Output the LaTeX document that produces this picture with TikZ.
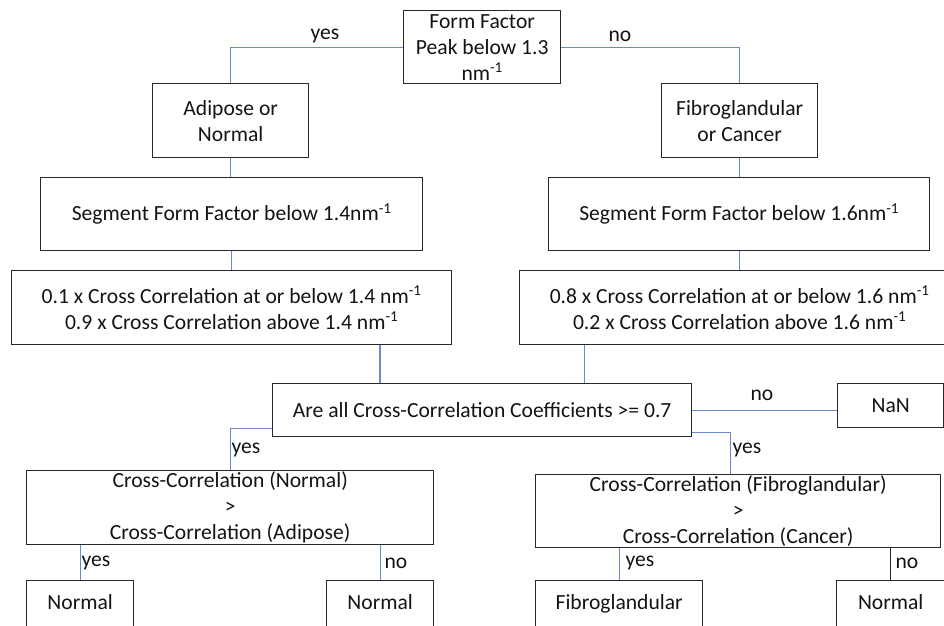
\documentclass[tikz,border=0pt]{standalone}
\usepackage{fontspec}
\setmainfont{Carlito}
\definecolor{boxc}{RGB}{40,40,40}
\definecolor{connc}{RGB}{105,138,200}
\definecolor{txtc}{RGB}{20,20,20}
\begin{document}
\begin{tikzpicture}[x=1pt,y=-1pt,
  every node/.style={font=\fontsize{21.6}{26}\selectfont, text=txtc},
  box/.style={draw=boxc, line width=1.4pt, anchor=north west, align=center, inner sep=0pt, fill=white},
  leafbox/.style={box, minimum height=48, text height=15pt, text depth=5pt},
  conn/.style={draw=connc, line width=1.3pt},
  conndark/.style={draw=boxc, line width=1.2pt},
  lbl/.style={inner sep=0pt}]
\useasboundingbox (0,0) rectangle (944,625);
\clip (0,0) rectangle (944,625);
\fill[white] (0,0) rectangle (944,625);
% boxes
\node[box, minimum width=157, minimum height=73] (top) at (403,10) {Form Factor\\Peak below 1.3\\nm\textsuperscript{-1}};
\node[box, minimum width=156, minimum height=74] (adi) at (152,83) {Adipose or\\Normal};
\node[box, minimum width=156, minimum height=74] (fib) at (661,83) {Fibroglandular\\or Cancer};
\node[box, minimum width=382, minimum height=73] (segL) at (40,177) {Segment Form Factor below 1.4nm\textsuperscript{-1}};
\node[box, minimum width=381, minimum height=73] (segR) at (548,177) {Segment Form Factor below 1.6nm\textsuperscript{-1}};
\node[box, minimum width=440, minimum height=74] (ccL) at (11,270) {0.1 x Cross Correlation at or below 1.4 nm\textsuperscript{-1}\\0.9 x Cross Correlation above 1.4 nm\textsuperscript{-1}};
\node[box, minimum width=440, minimum height=74] (ccR) at (519,270) {0.8 x Cross Correlation at or below 1.6 nm\textsuperscript{-1}\\0.2 x Cross Correlation above 1.6 nm\textsuperscript{-1}};
\node[box, minimum width=419, minimum height=53] (are) at (272,383) {Are all Cross-Correlation Coefficients >= 0.7};
\node[box, minimum width=106, minimum height=44] (nan) at (837,383) {NaN};
\node[box, minimum width=407, minimum height=74] (ccN) at (26,470) {Cross-Correlation (Normal)\\>\\Cross-Correlation (Adipose)};
\node[box, minimum width=405, minimum height=73] (ccF) at (535,474) {Cross-Correlation (Fibroglandular)\\>\\Cross-Correlation (Cancer)};
\node[leafbox, minimum width=107] (n1) at (26,580) {Normal};
\node[leafbox, minimum width=107] (n2) at (326,580) {Normal};
\node[leafbox, minimum width=167] (fg) at (535,580) {Fibroglandular};
\node[leafbox, minimum width=108] (n3) at (836,580) {Normal};
% connectors
\draw[conn] (top.west) -| (adi.north);
\draw[conn] (top.east) -| (fib.north);
\draw[conn] (adi.south) -- (adi.south |- segL.north);
\draw[conn] (fib.south) -- (fib.south |- segR.north);
\draw[conn] (segL.south) -- (segL.south |- ccL.north);
\draw[conn] (segR.south) -- (segR.south |- ccR.north);
\draw[conn] ([xshift=108]are.north west) -- ([xshift=108]are.north west |- ccL.south);
\draw[conn] ([xshift=-108]are.north east) -- ([xshift=-108]are.north east |- ccR.south);
\draw[conn] (are.east) -- (are.east -| nan.west);
\draw[conn] ([yshift=9]are.south west) -| (ccN.north);
\draw[conn] ([yshift=5]are.south east) -| ([xshift=-7.5]ccF.north);
\draw[conn] (n1.north |- ccN.south) -- (n1.north);
\draw[conn] (n2.north |- ccN.south) -- (n2.north);
\draw[conn] (fg.north |- ccF.south) -- (fg.north);
\draw[conndark] (n3.north |- ccF.south) -- (n3.north);
% labels
\node[lbl] (ly1) at (325,36) {yes};
\node[lbl] (ln1) at (620,36) {no};
\node[lbl] (ln2) at (762,395) {no};
\node[lbl] (ly2) at (246,450) {yes};
\node[lbl] (ly3) at (747,450) {yes};
\node[lbl] (ly4) at (96,563) {yes};
\node[lbl] (ln3) at (396,563) {no};
\node[lbl] (ly5) at (640,563) {yes};
\node[lbl] (ln4) at (907,563) {no};
\end{tikzpicture}
\end{document}
